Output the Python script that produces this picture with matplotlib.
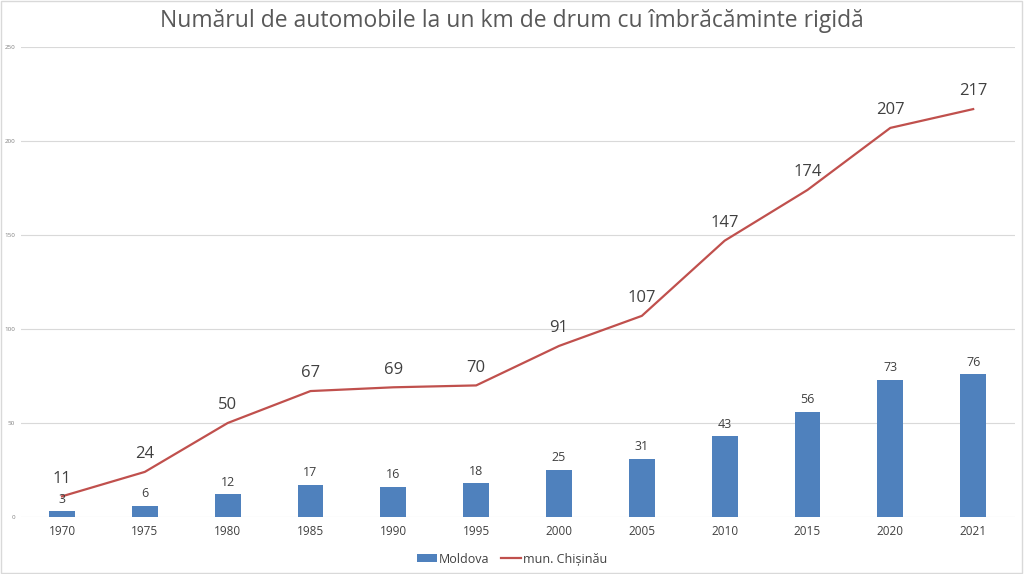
import matplotlib
matplotlib.use("Agg")
import matplotlib.pyplot as plt
import numpy as np

years = ["1970", "1975", "1980", "1985", "1990", "1995", "2000", "2005", "2010", "2015", "2020", "2021"]
moldova = [3, 6, 12, 17, 16, 18, 25, 31, 43, 56, 73, 76]
chisinau = [11, 24, 50, 67, 69, 70, 91, 107, 147, 174, 207, 217]
yticks = [0, 50, 100, 150, 200, 250]

plt.rcParams['font.family'] = ['Open Sans', 'DejaVu Sans']

fig = plt.figure(figsize=(10.24, 5.74), dpi=100)
ax = fig.add_axes([0.0201, 0.0993, 0.9707, 0.8187])

x = np.arange(len(years))
bar_c = "#4F81BD"
line_c = "#C0504D"
txt_c = "#404040"

bars = ax.bar(x, moldova, width=0.31, color=bar_c, label="Moldova", zorder=2)
line, = ax.plot(x, chisinau, color=line_c, lw=1.6, label="mun. Chișinău", zorder=3)

for xi, v in zip(x, moldova):
    ax.annotate(str(v), (xi, v), xytext=(0, 4), textcoords="offset points",
                ha="center", va="bottom", fontsize=9, color=txt_c)
for xi, v in zip(x, chisinau):
    ax.annotate(str(v), (xi, v), xytext=(0, 7), textcoords="offset points",
                ha="center", va="bottom", fontsize=12, color=txt_c)

ax.set_xlim(-0.5, len(years) - 0.5)
ax.set_ylim(0, 250)
ax.set_yticks(yticks)
ax.set_yticklabels([str(t) for t in yticks], fontsize=4.5, color="#808080")
ax.set_xticks(x)
ax.set_xticklabels(years, fontsize=8.5, color=txt_c)
ax.tick_params(axis="both", length=0)
ax.yaxis.set_tick_params(pad=4)
ax.xaxis.set_tick_params(pad=6)
ax.grid(axis="y", color="#D9D9D9", lw=0.8, zorder=0)
for s in ax.spines.values():
    s.set_visible(False)

fig.suptitle("Numărul de automobile la un km de drum cu îmbrăcăminte rigidă",
             fontsize=16.5, color="#595959", y=0.985)

fig.legend([bars, line], ["Moldova", "mun. Chișinău"], loc="lower center", ncol=2,
           frameon=False, fontsize=9, bbox_to_anchor=(0.5, -0.005),
           handlelength=1.6, handleheight=0.6, handletextpad=0.1,
           columnspacing=1.0, labelcolor=txt_c)

border = plt.Rectangle((0.001, 0.002), 0.997, 0.996, transform=fig.transFigure,
                       fill=False, edgecolor="#D9D9D9", lw=1)
fig.patches.append(border)

fig.savefig("out.png", dpi=100)
